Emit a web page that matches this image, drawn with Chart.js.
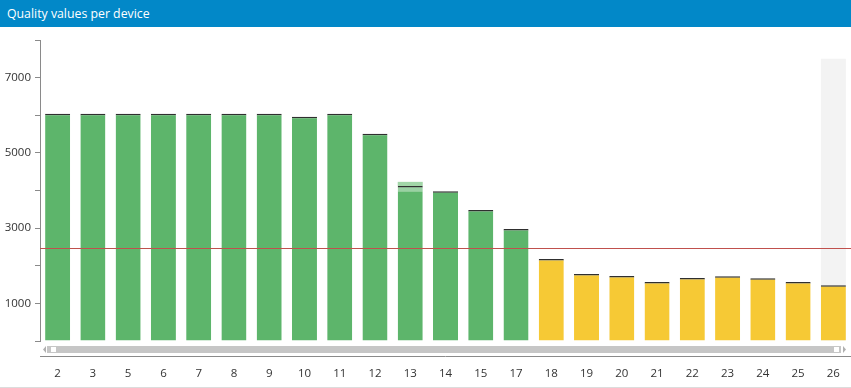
<!DOCTYPE html>
<html>
<head>
<meta charset="utf-8">
<script src="https://cdn.jsdelivr.net/npm/chart.js@4.4.0/dist/chart.umd.min.js"></script>
<style>
  html, body { margin: 0; background: #fff; overflow: hidden; font-family: 'Open Sans', sans-serif; }
  #wrap { width: 851px; height: 388px; box-sizing: border-box; border-bottom: 1px solid #dcdcdc; }
  #title { height: 27px; background: #0288c8; color: #fff; font-size: 12.3px; line-height: 27px; padding-left: 7px; }
  #myChart { display: block; }
</style>
</head>
<body>
<div id="wrap">
  <div id="title">Quality values per device</div>
  <canvas id="myChart" width="851" height="360"></canvas>
</div>
<script>
const devices = ['2', '3', '5', '6', '7', '8', '9', '10', '11', '12', '13', '14', '15', '17', '18', '19', '20', '21', '22', '23', '24', '25', '26'];
const quality = [6040, 6040, 6040, 6040, 6040, 6040, 6040, 5960, 6040, 5505, 4120, 3980, 3485, 2980, 2180, 1780, 1730, 1570, 1675, 1720, 1670, 1570, 1480];
const threshold = 2480;
const yLabels = [1000, 3000, 5000, 7000];

// grey column behind the selected device
const selectedDevice = '26';
const selectedValue = 7500;
// highlighted band on device 13
const hoverDevice = '13';
const hoverBand = [3965, 4230];

const green = '#5db56b';
const yellow = '#f6c935';

const thresholdLine = {
    id: 'thresholdLine',
    afterDatasetsDraw(chart) {
        var ctx = chart.ctx;
        var area = chart.chartArea;
        var y = Math.round(chart.scales.y.getPixelForValue(threshold)) + 0.5;
        ctx.save();
        ctx.strokeStyle = '#c0504d';
        ctx.lineWidth = 1.2;
        ctx.beginPath();
        ctx.moveTo(area.left, y);
        ctx.lineTo(area.right, y);
        ctx.stroke();
        ctx.restore();
    }
};

// fake horizontal scrollbar + axis line under the bars
const scrollBar = {
    id: 'scrollBar',
    afterDraw(chart) {
        var ctx = chart.ctx;
        var area = chart.chartArea;
        var top = area.bottom + 5;
        var left = area.left + 7;
        var right = area.right - 10;
        ctx.save();
        ctx.fillStyle = '#c6c6c6';
        ctx.fillRect(left, top, right - left, 7);

        ctx.fillStyle = '#b0b0b0';
        ctx.beginPath();
        ctx.moveTo(left - 1, top);
        ctx.lineTo(left - 1, top + 7);
        ctx.lineTo(left - 4, top + 3.5);
        ctx.fill();
        ctx.beginPath();
        ctx.moveTo(right + 2, top);
        ctx.lineTo(right + 2, top + 7);
        ctx.lineTo(right + 5, top + 3.5);
        ctx.fill();

        ctx.fillStyle = '#fff';
        ctx.fillRect(left + 4, top + 1, 5, 5);
        ctx.fillRect(right - 7, top + 1, 5, 5);

        ctx.strokeStyle = '#8a8a8a';
        ctx.lineWidth = 1;
        ctx.beginPath();
        ctx.moveTo(area.left, area.bottom + 15.5);
        ctx.lineTo(chart.width, area.bottom + 15.5);
        ctx.stroke();
        ctx.restore();
    }
};

createChart();

function createChart() {
    var ctx = document.getElementById('myChart').getContext('2d');
    var hoverIndex = devices.indexOf(hoverDevice);
    new Chart(ctx, {
        type: 'bar',
        data: {
            labels: devices,
            datasets: [{
                label: 'selected',
                data: devices.map(d => d === selectedDevice ? selectedValue : null),
                backgroundColor: '#f3f3f3',
                order: 4
            }, {
                label: 'Quality',
                data: quality,
                backgroundColor: quality.map(v => v >= threshold ? green : yellow),
                borderColor: '#2f2f2f',
                borderWidth: { top: 1.5, left: 0, right: 0, bottom: 0 },
                order: 3
            }, {
                label: 'hover low',
                data: devices.map((d, i) => i === hoverIndex ? [hoverBand[0], quality[i] - 45] : null),
                backgroundColor: 'rgba(255,255,255,0.38)',
                order: 2
            }, {
                label: 'hover high',
                data: devices.map((d, i) => i === hoverIndex ? [quality[i], hoverBand[1]] : null),
                backgroundColor: '#a2d6a8',
                order: 1
            }]
        },
        options: {
            responsive: false,
            animation: false,
            layout: { padding: { top: 13, right: 0, left: 0, bottom: 0 } },
            datasets: {
                bar: {
                    grouped: false,
                    barPercentage: 0.71,
                    categoryPercentage: 1
                }
            },
            plugins: {
                legend: { display: false },
                tooltip: { enabled: false }
            },
            scales: {
                x: {
                    // invisible tick marks only push the labels below the scrollbar
                    grid: { display: false, drawTicks: true, tickLength: 26 },
                    border: { display: false },
                    ticks: {
                        padding: 0,
                        color: '#333',
                        font: { family: 'Open Sans', size: 11.5 },
                        maxRotation: 0,
                        autoSkip: false
                    },
                    afterFit: scale => { scale.height = 46; }
                },
                y: {
                    min: 0,
                    max: 8000,
                    grid: {
                        drawOnChartArea: false,
                        tickLength: 5,
                        color: '#8a8a8a'
                    },
                    border: { color: '#8a8a8a' },
                    ticks: {
                        stepSize: 1000,
                        padding: 4,
                        color: '#333',
                        font: { family: 'Open Sans', size: 11.5 },
                        callback: v => yLabels.includes(v) ? String(v) : ''
                    },
                    afterFit: scale => { scale.width = 40; }
                }
            }
        },
        plugins: [thresholdLine, scrollBar]
    });
}
</script>
</body>
</html>
